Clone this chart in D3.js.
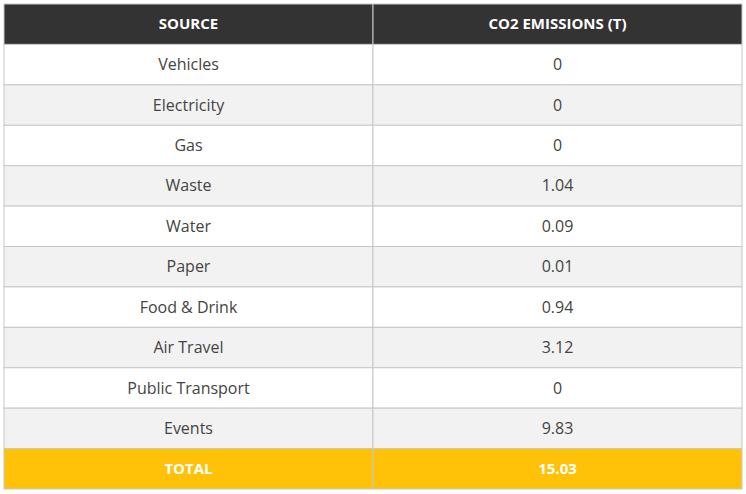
<!DOCTYPE html>
<html>
<head>
<meta charset="UTF-8" />
<script src="https://d3js.org/d3.v7.min.js"></script>
<style>
  body { margin: 0; background: #fff; }
  text { font-family: "Open Sans", sans-serif; }
</style>
</head>
<body>
<div id="chart"></div>
<script>
// table data
const headers = ["SOURCE", "CO2 EMISSIONS (T)"];
const sources = ["Vehicles", "Electricity", "Gas", "Waste", "Water", "Paper", "Food & Drink", "Air Travel", "Public Transport", "Events"];
const emissions = ["0", "0", "0", "1.04", "0.09", "0.01", "0.94", "3.12", "0", "9.83"];
const totalLabel = "TOTAL";
const totalValue = "15.03";

const w = 746, h = 494;
const svg = d3.select("#chart").append("svg").attr("width", w).attr("height", h);

const rows = ["header"].concat(sources.map((d, i) => "r" + i)).concat(["total"]);
const y = d3.scaleBand().domain(rows).range([4, 489]);
const x = d3.scaleBand().domain([0, 1]).range([4, 742]);

const cells = [];
rows.forEach((r, i) => {
  let vals, kind;
  if (r === "header") { vals = headers; kind = "header"; }
  else if (r === "total") { vals = [totalLabel, totalValue]; kind = "total"; }
  else { vals = [sources[i - 1], emissions[i - 1]]; kind = (i - 1) % 2 ? "odd" : "even"; }
  vals.forEach((v, c) => cells.push({ r, c, v, kind }));
});

const fills = { header: "#333333", total: "#FFC208", even: "#ffffff", odd: "#f2f2f2" };

const g = svg.selectAll("g.cell").data(cells).enter().append("g");
g.append("rect")
  .attr("x", d => x(d.c)).attr("y", d => y(d.r))
  .attr("width", x.bandwidth()).attr("height", y.bandwidth())
  .attr("fill", d => fills[d.kind])
  .attr("stroke", "#c8c8c8").attr("stroke-width", 1);
g.append("text")
  .attr("x", d => x(d.c) + x.bandwidth() / 2)
  .attr("y", d => y(d.r) + y.bandwidth() / 2)
  .attr("dy", "0.35em")
  .attr("text-anchor", "middle")
  .attr("font-size", d => d.kind === "header" || d.kind === "total" ? 15 : 16)
  .attr("font-weight", d => d.kind === "header" || d.kind === "total" ? 700 : 400)
  .attr("fill", d => d.kind === "header" || d.kind === "total" ? "#fff" : "#444")
  .text(d => d.v);
</script>
</body>
</html>
